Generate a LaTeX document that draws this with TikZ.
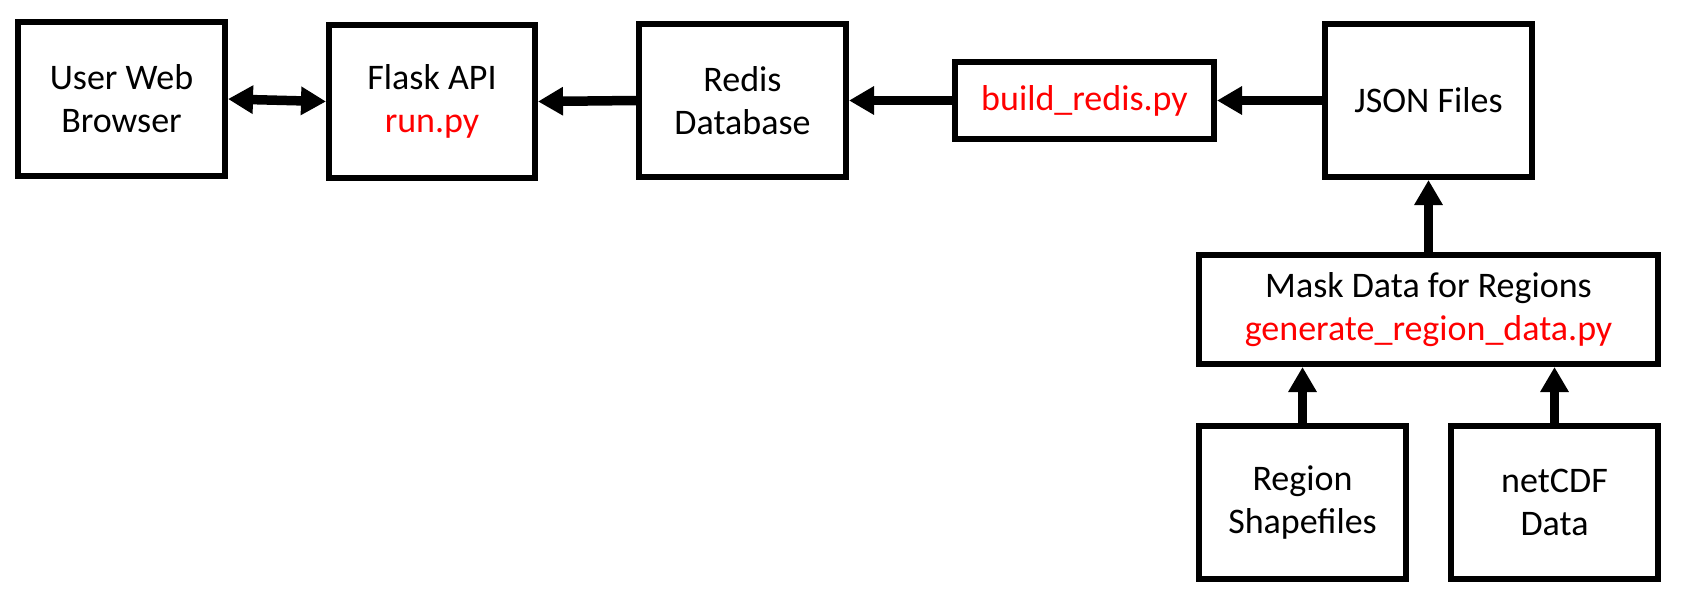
\documentclass[tikz,border=0pt]{standalone}
\usepackage{fontspec}
\setmainfont{Carlito}
\usetikzlibrary{arrows.meta}
\definecolor{codered}{RGB}{255,0,0}
\begin{document}
\begin{tikzpicture}[x=1pt,y=-1pt,
  box/.style={draw=black,line width=6pt,fill=white,align=center,inner sep=0pt,
    font=\fontsize{36}{43}\selectfont},
  conn/.style={line width=9.5pt,-{Triangle[length=25pt,width=27pt]}},
  dconn/.style={line width=9.5pt,{Triangle[length=25pt,width=27pt]}-{Triangle[length=25pt,width=27pt]}},
  code/.style={text=codered}]
\useasboundingbox (0,0) rectangle (1688,606);
\node[box,minimum width=207pt,minimum height=154pt] (browser) at (121.5,99) {User Web\\Browser};
\node[box,minimum width=206pt,minimum height=153pt] (flask) at (432,101.5) {Flask API\\\textcolor{codered}{run.py}};
\node[box,minimum width=207pt,minimum height=153pt] (redis) at (742.5,100.5) {Redis\\Database};
\node[box,minimum width=259pt,minimum height=77pt,code] (build) at (1084.5,100.5) {build\_redis.py};
\node[box,minimum width=207pt,minimum height=153pt] (json) at (1428.5,100.5) {JSON Files};
\node[box,minimum width=459pt,minimum height=109pt] (mask) at (1428.5,309.5) {Mask Data for Regions\\\textcolor{codered}{generate\_region\_data.py}};
\node[box,minimum width=207pt,minimum height=153pt] (region) at (1302.5,502.5) {Region\\Shapefiles};
\node[box,minimum width=207pt,minimum height=153pt] (netcdf) at (1554.5,502.5) {netCDF\\Data};
\draw[dconn] (browser.east) -- (flask.west);
\draw[conn] (redis.west) -- (flask.east);
\draw[conn] (build.west) -- (redis.east |- build.west);
\draw[conn] (json.west) -- (build.east |- json.west);
\draw[conn] (mask.north -| json.south) -- (json.south);
\draw[conn] (region.north) -- (region.north |- mask.south);
\draw[conn] (netcdf.north) -- (netcdf.north |- mask.south);
\end{tikzpicture}
\end{document}
